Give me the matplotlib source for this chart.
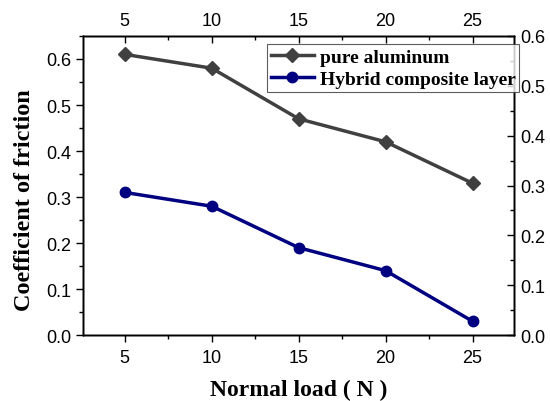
import matplotlib.pyplot as plt
from matplotlib.ticker import MultipleLocator

# data
loads = [5, 10, 15, 20, 25]
pure_al = [0.61, 0.58, 0.47, 0.42, 0.33]
hybrid = [0.31, 0.28, 0.19, 0.14, 0.03]

serif = ["Liberation Serif", "DejaVu Serif"]
sans = ["Liberation Sans", "DejaVu Sans"]

fig = plt.figure(figsize=(5.5, 4.02), dpi=100)
ax = fig.add_axes([0.151, 0.164, 0.784, 0.744])

ax.plot(loads, pure_al, color="#404040", lw=2.5, marker="D", ms=7,
        label="pure aluminum")
ax.plot(loads, hybrid, color="#000080", lw=2.5, marker="o", ms=7.5,
        label="Hybrid composite layer")

ax.set_xlim(2.6, 27.4)
ax.set_ylim(0, 0.65)
ax.xaxis.set_major_locator(MultipleLocator(5))
ax.xaxis.set_minor_locator(MultipleLocator(2.5))
ax.yaxis.set_major_locator(MultipleLocator(0.1))
ax.yaxis.set_minor_locator(MultipleLocator(0.05))
ax.tick_params(which="both", direction="out", top=False, right=False,
               width=1, labelsize=13)
ax.tick_params(which="major", length=5)
ax.tick_params(which="minor", length=3)
ax.tick_params(axis="x", pad=5)
for lab in ax.get_xticklabels() + ax.get_yticklabels():
    lab.set_family(sans)

# mirrored top axis
top = ax.twiny()
top.set_xlim(ax.get_xlim())
top.xaxis.set_major_locator(MultipleLocator(5))
top.xaxis.set_minor_locator(MultipleLocator(2.5))
top.tick_params(which="both", direction="in", labelsize=13, width=1, pad=5)
top.tick_params(which="major", length=5)
top.tick_params(which="minor", length=3)

# right axis with its own scale
right = ax.twinx()
right.set_ylim(0, 0.6)
right.yaxis.set_major_locator(MultipleLocator(0.1))
right.yaxis.set_minor_locator(MultipleLocator(0.05))
right.tick_params(which="both", direction="in", labelsize=13, width=1, pad=4)
right.tick_params(which="major", length=5)
right.tick_params(which="minor", length=3)

for a in (top, right):
    for lab in a.get_xticklabels() + a.get_yticklabels():
        lab.set_family(sans)

for a in (ax, top, right):
    for s in a.spines.values():
        s.set_linewidth(1)

ax.set_xlabel("Normal load ( N )", family=serif, fontweight="bold",
              fontsize=17, labelpad=9)
ax.set_ylabel("Coefficient of friction", family=serif, fontweight="bold",
              fontsize=17.5)
ax.yaxis.set_label_coords(-0.111, 0.455)

leg = ax.legend(loc="upper left", bbox_to_anchor=(0.427, 0.973),
                prop={"family": serif, "weight": "bold", "size": 14},
                frameon=True, fancybox=False, edgecolor="#333333",
                borderpad=0.2, handlelength=2.2, handletextpad=0.3,
                labelspacing=0.25, borderaxespad=0)
leg.get_frame().set_linewidth(0.8)
leg.remove()
right.add_artist(leg)

fig.savefig("out.png", dpi=100)
